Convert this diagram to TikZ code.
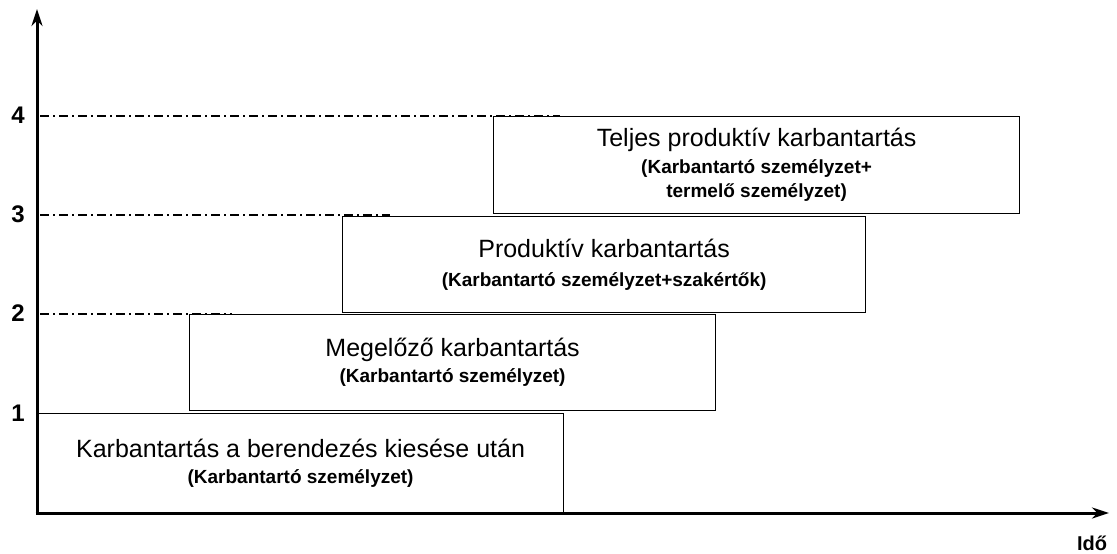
\documentclass[tikz,border=0pt]{standalone}
\usepackage{fontspec}
\setmainfont{Liberation Sans}
\usetikzlibrary{arrows.meta,positioning}

\begin{document}
\begin{tikzpicture}[
  x=1pt, y=-1pt, >=Stealth,
  stage/.style={draw=black, line width=1.2pt, anchor=north west, inner sep=0pt, minimum width=526pt, minimum height=97pt, align=center, font=\fontsize{25}{29}\selectfont},
  level/.style={font=\bfseries\fontsize{24}{24}\selectfont},
  axis/.style={line width=3pt, -{Stealth[length=17pt,width=11pt]}},
  guide/.style={line width=1.3pt, dash pattern=on 9pt off 4pt on 2pt off 4pt}
]
\useasboundingbox (0,0) rectangle (1117,554);

\coordinate (origin) at (37,513);
\coordinate (ytip) at (37,9);
\coordinate (xtip) at (1109,513);

\node[stage, minimum height=100pt] (s1) at (37,413) {Karbantartás a berendezés kiesése után\\[-3pt]{\bfseries\fontsize{19}{22}\selectfont (Karbantartó személyzet)}};
\node[stage, minimum height=96pt] (s2) at (189,314) {Megelőző karbantartás\\[-3pt]{\bfseries\fontsize{19}{22}\selectfont (Karbantartó személyzet)}};
\node[stage, minimum width=523pt, minimum height=96pt] (s3) at (342,216) {Produktív karbantartás\\[0pt]{\bfseries\fontsize{19}{22}\selectfont (Karbantartó személyzet+szakértők)}};
\node[stage] (s4) at (493,116) {Teljes produktív karbantartás\\[-2pt]{\bfseries\fontsize{19}{22}\selectfont (Karbantartó személyzet+}\\[-5pt]{\bfseries\fontsize{19}{22}\selectfont termelő személyzet)}};

\node[level] (l1) at (18,413) {1};
\node[level] (l2) at (18,313) {2};
\node[level] (l3) at (18,214) {3};
\node[level] (l4) at (18,115) {4};

\coordinate (g2a) at (40,314);
\coordinate (g2b) at (232,314);
\coordinate (g3a) at (40,215);
\coordinate (g3b) at (390,215);
\coordinate (g4a) at (40,116);
\coordinate (g4b) at (560,116);

\draw[guide] (g2a) -- (g2b);
\draw[guide] (g3a) -- (g3b);
\draw[guide] (g4a) -- (g4b);

\draw[axis] (origin) -- (ytip);
\draw[axis] ([xshift=-1.5pt]origin) -- (xtip);

\node[font=\bfseries\fontsize{20}{20}\selectfont] (time) at (1092,543) {Idő};

\end{tikzpicture}
\end{document}
